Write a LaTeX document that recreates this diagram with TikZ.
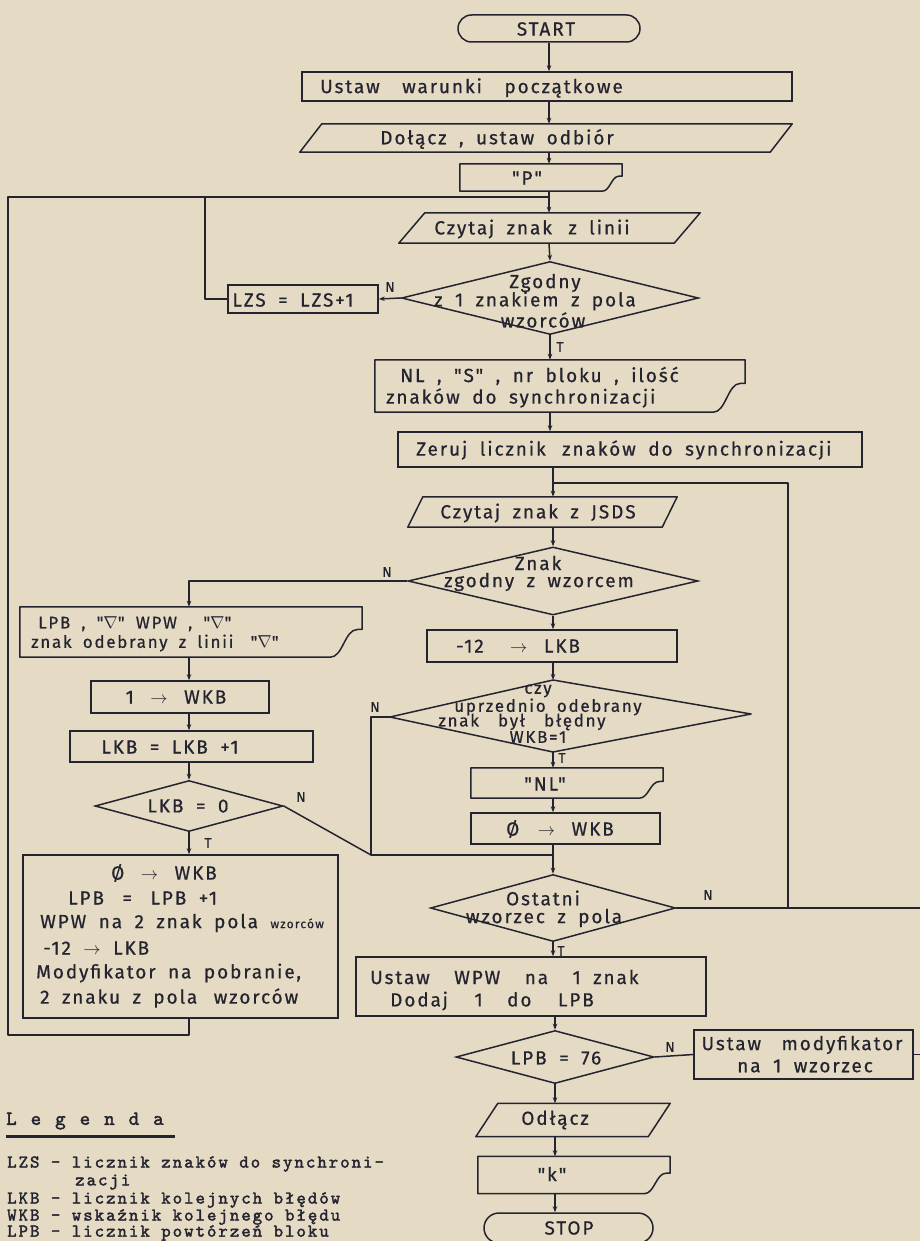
\documentclass[tikz,border=0pt]{standalone}
\usepackage{fontspec}
\setmainfont{Fira Sans}[LetterSpace=10,WordSpace=1.8,Ligatures=TeXOff,FakeBold=0.6]
\newfontfamily\legfont{lmmono10-regular.otf}[FakeBold=2,LetterSpace=11]
\usetikzlibrary{calc,arrows.meta,shapes.geometric}
\definecolor{paper}{RGB}{229,219,196}
\definecolor{ink}{RGB}{36,36,48}
\newcommand\mfont{\fontsize{19}{21}\selectfont}
\newcommand\sfont{\fontsize{17}{16}\selectfont}
\newcommand\lfont{\legfont\fontsize{18}{18}\selectfont}
\newcommand\parash[2]{\draw[ln] ($(#1.north west)+(#2,0)$) -- (#1.north east) -- ($(#1.south east)-(#2,0)$) -- (#1.south west) -- cycle;}
\newcommand\docsh[2]{\draw[ln] let \p1=(#1.north west), \p2=(#1.south east) in (\p1) -- (\x2,\y1) -- (\x2,{0.55*\y1+0.45*\y2}) -- ({\x2-0.15*#2pt},{0.55*\y1+0.45*\y2}) .. controls ({\x2-0.55*#2pt},{0.55*\y1+0.45*\y2}) and ({\x2-0.6*#2pt},\y2) .. ({\x2-#2pt},\y2) -- (\x1,\y2) -- cycle;}
\begin{document}
\begin{tikzpicture}[x=1pt,y=-1pt,
 ln/.style={draw=ink,line width=1.5pt,line join=round},
 arr/.style={ln,-{Stealth[length=6pt,width=4.5pt]}},
 bx/.style={rectangle,draw=ink,line width=1.5pt,inner sep=0pt},
 ghost/.style={rectangle,inner sep=0pt},
 dia/.style={diamond,draw=ink,line width=1.5pt,inner sep=0pt},
 tx/.style={text=ink,inner sep=0pt,font=\mfont,align=center},
 sx/.style={text=ink,inner sep=0pt,font=\sfont,align=center},
 lab/.style={text=ink,inner sep=0pt,font=\fontsize{14}{14}\selectfont},
 lg/.style={text=ink,inner sep=0pt,font=\lfont,anchor=west}]
\fill[paper] (0,0) rectangle (920,1241);
\useasboundingbox (0,0) rectangle (920,1241);

% ---------- shapes ----------
\node[bx,rounded corners=13.5pt,minimum width=182pt,minimum height=27pt] (start) at (549,28.5) {};
\node[bx,minimum width=490pt,minimum height=29pt] (ustaw) at (547,86.5) {};
\node[ghost,minimum width=492pt,minimum height=28pt] (dolacz) at (546,138) {};
\parash{dolacz}{22}
\node[ghost,minimum width=162pt,minimum height=27pt] (P) at (541,177.5) {};
\docsh{P}{20}
\node[ghost,minimum width=301pt,minimum height=30pt] (czyt1) at (549.5,228) {};
\parash{czyt1}{26}
\node[dia,minimum width=297pt,minimum height=73pt] (zg) at (550,298) {};
\node[bx,minimum width=150pt,minimum height=28pt] (lzs) at (303,299) {};
\node[ghost,minimum width=370pt,minimum height=52pt] (nl1) at (560,386) {};
\docsh{nl1}{32}
\node[bx,minimum width=464pt,minimum height=35pt] (zeruj) at (630,449.5) {};
\node[ghost,minimum width=269pt,minimum height=30pt] (jsds) at (542.5,512) {};
\parash{jsds}{15}
\node[dia,minimum width=290pt,minimum height=68pt] (znak) at (553,581) {};
\node[ghost,minimum width=342pt,minimum height=50pt] (lpb) at (191,632) {};
\docsh{lpb}{32}
\node[bx,minimum width=178pt,minimum height=32pt] (one) at (180,697) {};
\node[bx,minimum width=243pt,minimum height=31pt] (lkbinc) at (191.5,746.5) {};
\node[dia,minimum width=188pt,minimum height=51pt] (lkb0) at (189,806) {};
\node[bx,minimum width=315pt,minimum height=163pt] (big) at (180.5,936.5) {};
\node[bx,minimum width=250pt,minimum height=32pt] (m12) at (552,646) {};
\coordinate (czyT) at (553,680);
\coordinate (czyR) at (751,714);
\coordinate (czyB) at (553,752);
\coordinate (czyL) at (390,717);
\draw[ln] (czyT) -- (czyR) -- (czyB) -- (czyL) -- cycle;
\node[ghost,minimum width=192pt,minimum height=30pt] (nl2) at (567,783) {};
\docsh{nl2}{24}
\node[bx,minimum width=189pt,minimum height=31pt] (ow) at (565.5,828.5) {};
\node[dia,minimum width=245pt,minimum height=67pt] (ost) at (553,908) {};
\node[bx,minimum width=350pt,minimum height=59pt] (uwpw) at (531,986.5) {};
\node[dia,minimum width=198pt,minimum height=53pt] (lpb76) at (555,1057) {};
\node[bx,minimum width=219pt,minimum height=49pt] (modyf) at (803.5,1054.5) {};
\node[ghost,minimum width=194pt,minimum height=33pt] (odl) at (573,1120) {};
\parash{odl}{22}
\node[ghost,minimum width=192pt,minimum height=37pt] (kk) at (574,1175) {};
\docsh{kk}{26}
\node[bx,rounded corners=15pt,minimum width=169pt,minimum height=30pt] (stop) at (568.5,1228) {};

% ---------- helper coordinates ----------
\coordinate (cA) at (549,0);
\coordinate (cB) at (553,0);
\coordinate (cL) at (189,0);
\coordinate (j1) at (549,197);
\coordinate (j1l) at (205,197);
\coordinate (lft) at (8,197);
\coordinate (lb) at (189,1035);
\coordinate (lbl) at (8,1035);
\coordinate (j2) at (553,483);
\coordinate (j3) at (553,855);
\coordinate (vb) at (371,855);
\coordinate (rv) at (788,908);
\coordinate (redge) at (920,908);

% ---------- connectors ----------
\draw[arr] (start.south) -- (start.south |- ustaw.north);
\draw[arr] (ustaw.south -| cA) -- (dolacz.north -| cA);
\draw[arr] (dolacz.south -| cA) -- (P.north -| cA);
\draw[ln] (P.south -| cA) -- (j1);
\draw[arr] (j1) -- (czyt1.north -| cA);
\draw[arr] (czyt1.south -| cA) -- (zg.north);
\draw[arr] (zg.west) -- (lzs.east);
\draw[ln] (lzs.west) -| (j1l) -- (j1);
\draw[arr] (zg.south) -- (zg.south |- nl1.north);
\draw[arr] (nl1.south -| zg.south) -- (zeruj.north -| zg.south);
\draw[ln] (zeruj.south -| cB) -- (j2);
\draw[arr] (j2) -- (jsds.north -| cB);
\draw[arr] (jsds.south -| cB) -- (znak.north);
\draw[arr] (znak.west) -| (lpb.north -| cL);
\draw[arr] (znak.south) -- (znak.south |- m12.north);
\draw[arr] (m12.south -| cB) -- (czyT);
\draw[arr] (czyB) -- (czyB |- nl2.north);
\draw[arr] (nl2.south -| cB) -- (ow.north -| cB);
\draw[ln] (ow.south -| cB) -- (j3);
\draw[arr] (j3) -- (ost.north);
\draw[ln] (czyL) -| (vb) -- (j3);
\draw[ln] (lkb0.east) -- (vb);
\draw[arr] (lpb.south -| cL) -- (one.north -| cL);
\draw[arr] (one.south -| cL) -- (lkbinc.north -| cL);
\draw[arr] (lkbinc.south -| cL) -- (lkb0.north);
\draw[arr] (lkb0.south) -- (lkb0.south |- big.north);
\draw[ln] (big.south -| cL) -- (lb) -- (lbl) -- (lft) -- (j1l);
\draw[ln] (ost.east) -- (redge);
\draw[ln] (rv) |- (j2);
\draw[arr] (ost.south) -- (ost.south |- uwpw.north);
\draw[arr] (uwpw.south -| lpb76.north) -- (lpb76.north);
\draw[ln] (lpb76.east) -- (modyf.west);
\draw[ln] (modyf.east) -- (modyf.east -| redge);
\draw[arr] (lpb76.south) -- (lpb76.south |- odl.north);
\draw[arr] (odl.south -| lpb76.south) -- (kk.north -| lpb76.south);
\draw[arr] (kk.south -| lpb76.south) -- (stop.north -| lpb76.south);

% ---------- texts ----------
\node[tx] (tstart) at (546,29) {START};
\node[tx,anchor=west] (tustaw) at (320,88) {Ustaw\hspace{10pt} warunki\hspace{10pt} początkowe};
\node[tx] (tdol) at (497,139) {Dołącz , ustaw odbiór};
\node[tx] (tP) at (527,178) {"P"};
\node[tx] (tcz1) at (532,229) {Czytaj znak\hspace{4pt} z linii};
\node[tx] (tzg1) at (545,283) {Zgodny};
\node[tx] (tzg2) at (535,301) {z 1 znakiem z pola};
\node[tx] (tzg3) at (543,320) {wzorców};
\node[tx] (tlzs) at (293,300) {LZS = LZS+1};
\node[lab] (nzg) at (390,287) {N};
\node[lab] (tzgT) at (560,347) {T};
\node[tx,anchor=west] (tnl1a) at (400,376) {NL , "S" , nr bloku , ilość};
\node[tx,anchor=west] (tnl1b) at (386,398) {znaków do synchronizacji};
\node[tx,anchor=west] (tzer) at (416,450) {Zeruj licznik\hspace{4pt} znaków do synchronizacji};
\node[tx] (tjsds) at (538,513) {Czytaj znak z JSDS};
\node[tx] (tzn1) at (538,563) {Znak};
\node[tx] (tzn2) at (539,582) {zgodny z wzorcem};
\node[lab] (nzn) at (387,572) {N};
\node[sx,anchor=west] (tlpb1) at (38,624) {LPB , "$\nabla$" WPW , "$\nabla$"};
\node[sx,anchor=west] (tlpb2) at (31,643) {znak odebrany z linii\hspace{6pt} "$\nabla$"};
\node[tx] (tone) at (176,697) {1\hspace{4pt} $\rightarrow$\hspace{4pt} WKB};
\node[tx] (tinc) at (170,747) {LKB = LKB +1};
\node[tx] (tlkb0) at (188,806) {LKB = 0};
\node[lab] (nlkb) at (301,797) {N};
\node[lab] (tlkbT) at (208,843) {T};
\node[tx] (tb1) at (164,873) {Ø\hspace{4pt} $\rightarrow$\hspace{4pt} WKB};
\node[tx,anchor=west] (tb2) at (68,898) {LPB\hspace{6pt} =\hspace{6pt} LPB +1};
\node[tx,anchor=west] (tb3) at (40,923) {WPW na 2 znak pola {\fontsize{12}{12}\selectfont wzorców}};
\node[tx,anchor=west] (tb4) at (43,948) {-12 $\rightarrow$ LKB};
\node[tx,anchor=west] (tb5) at (36,973) {Modyfikator na pobranie,};
\node[tx,anchor=west] (tb6) at (40,998) {2 znaku z pola\hspace{4pt} wzorców};
\node[tx] (tm12) at (518,646) {-12\hspace{14pt} $\rightarrow$\hspace{4pt} LKB};
\node[sx] (tcz1a) at (538,691) {czy};
\node[sx] (tcz1b) at (548,707) {uprzednio odebrany};
\node[sx] (tcz1c) at (522,722) {znak\hspace{8pt} był\hspace{8pt} błędny};
\node[sx] (tcz1d) at (538,737) {WKB=1};
\node[lab] (nczy) at (375,707) {N};
\node[lab] (tczyT) at (562,758) {T};
\node[tx] (tnl2) at (545,784) {"NL"};
\node[tx] (tow) at (560,829) {Ø\hspace{6pt} $\rightarrow$\hspace{4pt} WKB};
\node[tx] (tost1) at (543,898) {Ostatni};
\node[tx] (tost2) at (544,918) {wzorzec z pola};
\node[lab] (nost) at (708,895) {N};
\node[lab] (tostT) at (561,951) {T};
\node[tx,anchor=west] (tuw1) at (370,977) {Ustaw\hspace{12pt} WPW\hspace{12pt} na\hspace{12pt} 1 znak};
\node[tx,anchor=west] (tuw2) at (390,1001) {Dodaj\hspace{14pt} 1\hspace{12pt} do\hspace{14pt} LPB};
\node[tx] (tl76) at (556,1058) {LPB = 76};
\node[lab] (nl76) at (670,1047) {N};
\node[tx] (tmod1) at (802,1045) {Ustaw\hspace{8pt} modyfikator};
\node[tx] (tmod2) at (805,1066) {na 1 wzorzec};
\node[tx] (todl) at (555,1120) {Odłącz};
\node[tx] (tkk) at (552,1174) {"k"};
\node[tx] (tstop) at (569,1228) {STOP};

% ---------- legend ----------
\node[lg,font=\legfont\fontsize{20}{20}\selectfont] (legh) at (6,1121) {L\hspace{14pt}e\hspace{14pt}g\hspace{14pt}e\hspace{14pt}n\hspace{14pt}d\hspace{14pt}a};
\draw[draw=ink,line width=3.5pt] (legh.south west) ++(0,7) -- ++(169,0);
\node[lg] (leg1) at (7,1164) {LZS - licznik znaków do synchroni-};
\node[lg] (leg2) at (75,1182) {zacji};
\node[lg] (leg3) at (7,1200) {LKB - licznik kolejnych błędów};
\node[lg] (leg4) at (7,1217) {WKB - wskaźnik kolejnego błędu};
\node[lg] (leg5) at (7,1233) {LPB - licznik powtórzeń bloku};
\end{tikzpicture}
\end{document}
